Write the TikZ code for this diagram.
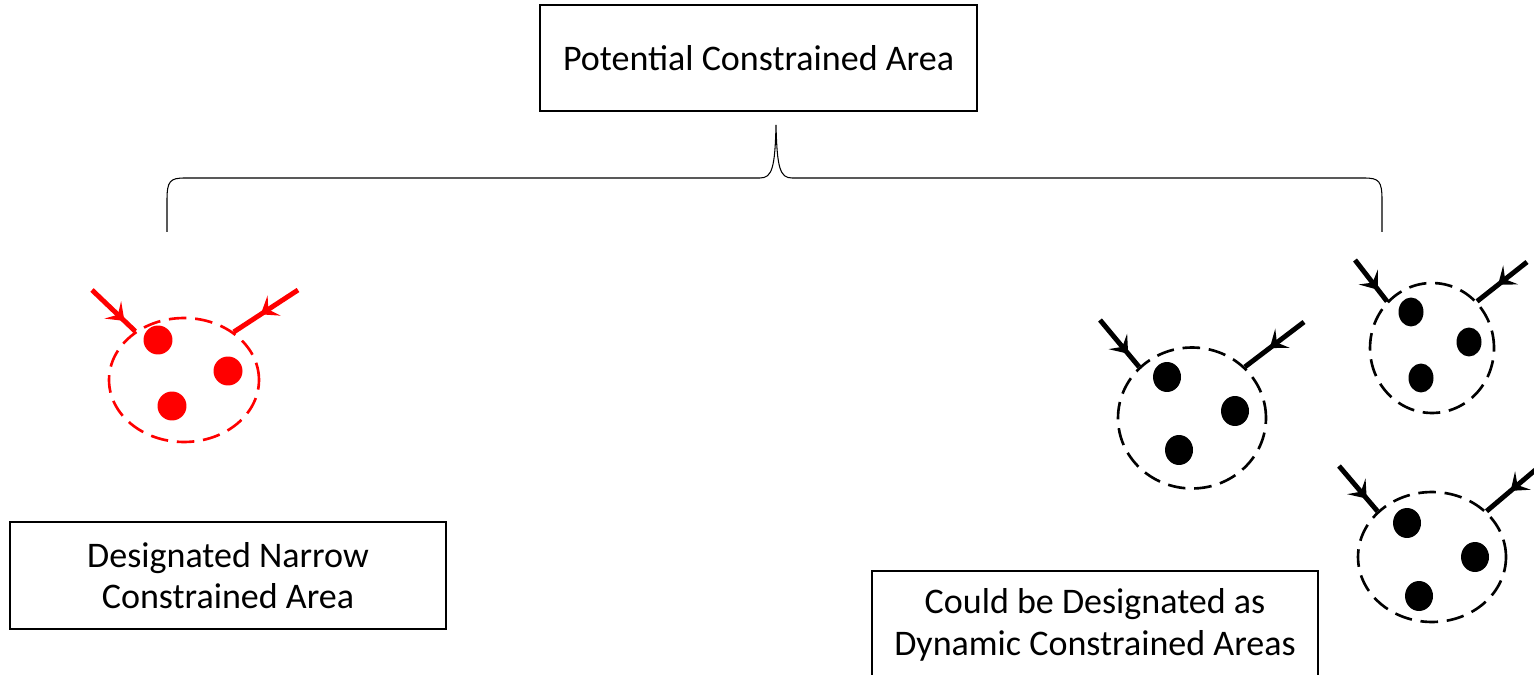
\documentclass[tikz,border=0pt]{standalone}
\usepackage{fontspec}
\setmainfont{Carlito}
\usetikzlibrary{arrows.meta,positioning,shapes.geometric,decorations.markings}

\begin{document}
\begin{tikzpicture}[
  x=0.02cm, y=-0.02cm,
  box/.style={draw, line width=1pt, align=center, inner sep=0pt,
              font=\fontsize{20.5}{23.5}\selectfont},
  zone/.style={ellipse, draw, line width=1.5pt, dash pattern=on 10pt off 5pt,
               inner sep=0pt},
  dot/.style={ellipse, fill, inner sep=0pt, minimum width=0.56cm,
              minimum height=0.6cm},
  feed/.style={line width=2.8pt, postaction={decorate, decoration={markings,
               mark=at position #1 with {\arrow{Stealth[length=3.2mm, width=4.8mm, inset=1.4mm]}}}}},
  feed/.default=0.7,
]
\useasboundingbox (0,0) rectangle (1534,675);

% boxes
\node[box, minimum width=8.74cm, minimum height=2.12cm] (top) at (758.5,58)
  {Potential Constrained Area};
\node[box, minimum width=8.72cm, minimum height=2.14cm] (narrow) at (228,575.5)
  {Designated Narrow\\Constrained Area};
\node[box, minimum width=8.92cm, minimum height=2.16cm] (dyn) at (1095,625)
  {Could be Designated as\\Dynamic Constrained Areas};

% brace
\coordinate (bl) at (167,232);
\coordinate (br) at (1382,232);
\coordinate (bt) at (776,125);
\draw[line width=0.6pt] (bl) -- (167,200) .. controls (167,181) and (170,178) .. (185,178)
  -- (760,178) .. controls (772,178) and (775,168) .. (bt)
  .. controls (777,168) and (780,178) .. (792,178) -- (1364,178)
  .. controls (1379,178) and (1382,181) .. (1382,200) -- (br);

% narrow area (red)
\begin{scope}[red]
\node[zone, minimum width=3cm, minimum height=2.48cm] (z1) at (184,380) {};
\node[dot, minimum width=0.58cm, minimum height=0.58cm] (z1d1) at (158,340) {};
\node[dot, minimum width=0.58cm, minimum height=0.58cm] (z1d2) at (228,371) {};
\node[dot, minimum width=0.58cm, minimum height=0.58cm] (z1d3) at (172,406) {};
\coordinate (z1a) at (92,290);
\coordinate (z1b) at (298,290);
\draw[feed=0.75] (z1a) -- (z1.135);
\draw[feed=0.58] (z1b) -- (z1.44);
\end{scope}

% dynamic areas
\node[zone, minimum width=2.96cm, minimum height=2.82cm] (z2) at (1192,418) {};
\node[dot] (z2d1) at (1167,377) {};
\node[dot] (z2d2) at (1235,411) {};
\node[dot] (z2d3) at (1179,450) {};
\coordinate (z2a) at (1100,320);
\coordinate (z2b) at (1304,322);
\draw[feed=0.72] (z2a) -- (z2.136);
\draw[feed=0.58] (z2b) -- (z2.44);

\node[zone, minimum width=2.48cm, minimum height=2.6cm] (z3) at (1432,348) {};
\node[dot, minimum width=0.5cm, minimum height=0.58cm] (z3d1) at (1411,312) {};
\node[dot, minimum width=0.5cm, minimum height=0.58cm] (z3d2) at (1469,342) {};
\node[dot, minimum width=0.5cm, minimum height=0.58cm] (z3d3) at (1421,378) {};
\coordinate (z3a) at (1355,260);
\coordinate (z3b) at (1527,262);
\draw[feed=0.72] (z3a) -- (z3.134);
\draw[feed=0.58] (z3b) -- (z3.46);

\node[zone, minimum width=2.96cm, minimum height=2.6cm] (z4) at (1432,557) {};
\node[dot] (z4d1) at (1407,523) {};
\node[dot] (z4d2) at (1475,557) {};
\node[dot] (z4d3) at (1419,596) {};
\coordinate (z4a) at (1339,466);
\coordinate (z4b) at (1540,466);
\draw[feed=0.72] (z4a) -- (z4.140);
\draw[feed=0.55] (z4b) -- (z4.40);
\end{tikzpicture}
\end{document}
